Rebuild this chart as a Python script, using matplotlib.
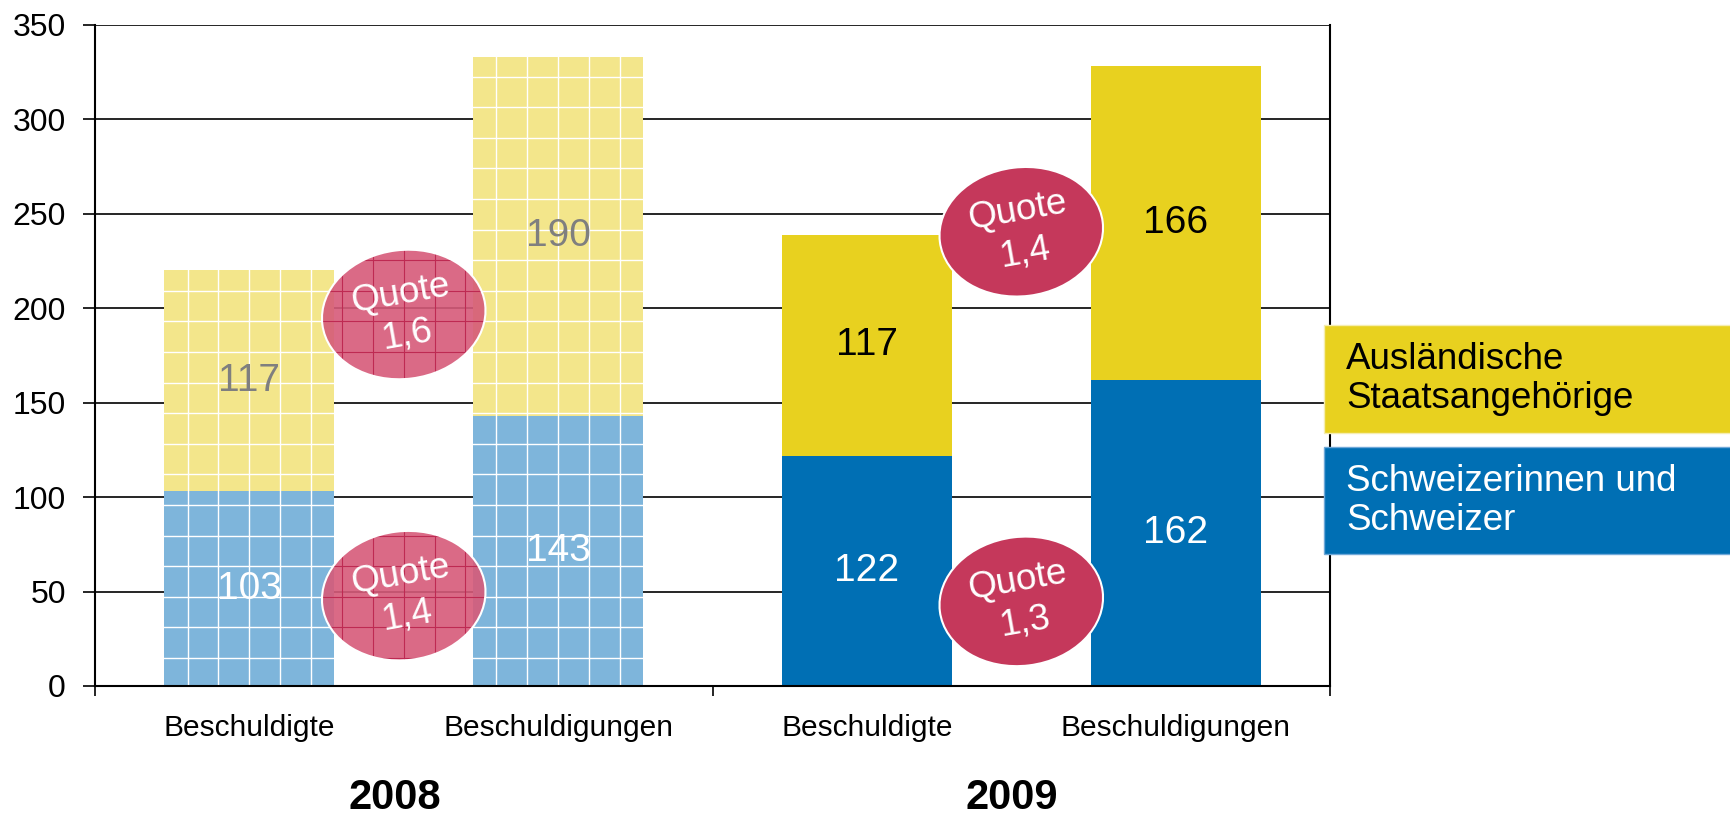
import numpy as np
import matplotlib
matplotlib.use('Agg')
import matplotlib.pyplot as plt
from matplotlib.patches import Ellipse, Rectangle
from matplotlib.transforms import ScaledTranslation

# data
categories = ['Beschuldigte', 'Beschuldigungen', 'Beschuldigte', 'Beschuldigungen']
years = ['2008', '2009']
schweizer = [103, 143, 122, 162]
auslaender = [117, 190, 117, 166]
# Quote = Beschuldigungen / Beschuldigte
quote_ausl = ['1,6', '1,4']
quote_ch = ['1,4', '1,3']

label_ausl = 'Ausländische\nStaatsangehörige'
label_ch = 'Schweizerinnen und\nSchweizer'

# colours
yel_light, blue_light = '#F3E68B', '#7EB5DB'
yel, blue = '#E8D11F', '#006FB4'
red, red_light, red_grid = '#C5385B', '#D65A79', '#BE2A52'

plt.rcParams['font.family'] = ['Liberation Sans', 'DejaVu Sans']

fig = plt.figure(figsize=(17.3, 8.18), dpi=100)
ax = fig.add_axes([0.0549, 0.1614, 0.7139, 0.8081])


def grid_fill(patch, dx, dy, color, lw=1.0):
    # fine grid pattern clipped to a patch (like the 2008 fill)
    x0, x1, y0, y1 = -1, 4, -50, 400
    xs = np.arange(x0, x1, dx)
    ys = np.arange(y0, y1, dy)
    v = ax.vlines(xs, y0, y1, colors=color, lw=lw, zorder=patch.get_zorder() + 0.1)
    h = ax.hlines(ys, x0, x1, colors=color, lw=lw, zorder=patch.get_zorder() + 0.1)
    v.set_clip_path(patch)
    h.set_clip_path(patch)


x = np.arange(len(categories))
width = 0.55
for i in x:
    light = i < 2
    c1 = blue_light if light else blue
    c2 = yel_light if light else yel
    b1 = ax.bar(i, schweizer[i], width, color=c1, zorder=2)[0]
    b2 = ax.bar(i, auslaender[i], width, bottom=schweizer[i], color=c2, zorder=2)[0]
    if light:
        grid_fill(b1, 0.1, 16.2, 'white')
        grid_fill(b2, 0.1, 16.2, 'white')
    ax.text(i, schweizer[i] / 2, str(schweizer[i]), ha='center', va='center',
            fontsize=28, color='white', zorder=5)
    ax.text(i, schweizer[i] + auslaender[i] / 2, str(auslaender[i]), ha='center',
            va='center', fontsize=28, color='#7F7F7F' if light else 'black', zorder=5)

# Quote ellipses between the bars of each year (size in inches, centre in data)
ell_x = [0.5, 2.5]
ell_y_top = [196.7, 240.5]
ell_y_bot = [47.8, 44.8]
ell_w, ell_h = 1.64, 1.29
for k in range(2):
    for yc, q in [(ell_y_top[k], quote_ausl[k]), (ell_y_bot[k], quote_ch[k])]:
        trans = fig.dpi_scale_trans + ScaledTranslation(ell_x[k], yc, ax.transData)
        if k == 0:
            e = Ellipse((0, 0), ell_w, ell_h, angle=7, facecolor=red_light,
                        edgecolor='none', alpha=0.9, zorder=3, transform=trans)
            ax.add_patch(e)
            grid_fill(e, 0.1, 16.2, red_grid, lw=0.8)
        e2 = Ellipse((0, 0), ell_w, ell_h, angle=7,
                     facecolor='none' if k == 0 else red,
                     edgecolor='white', lw=1.5, zorder=4, transform=trans)
        ax.add_patch(e2)
        ax.text(ell_x[k], yc, 'Quote\n' + q, ha='center', va='center', rotation=10,
                fontsize=26.5, color='white', linespacing=1.25, zorder=6,
                rotation_mode='anchor')

ax.set_xlim(-0.5, 3.5)
ax.set_ylim(0, 350)
ax.set_yticks(range(0, 351, 50))
ax.tick_params(axis='y', labelsize=23, length=9, width=1.2, direction='out', pad=12)
ax.set_xticks([-0.5, 1.5, 3.5])
ax.set_xticklabels([])
ax.tick_params(axis='x', length=7, width=1.2, direction='out')
ax.yaxis.grid(True, color='black', lw=1.2, zorder=1)
ax.set_axisbelow(True)
ax.spines['top'].set_visible(False)
for s in ['left', 'right', 'bottom']:
    ax.spines[s].set_linewidth(1.5)

for i, c in enumerate(categories):
    ax.text(i, -0.064, c, transform=ax.get_xaxis_transform(), ha='center', va='center',
            fontsize=21.5)
for k, yr in enumerate(years):
    ax.text(ell_x[k] - 0.03, -0.170, yr, transform=ax.get_xaxis_transform(), ha='center',
            va='center', fontsize=30, fontweight='bold')

# legend boxes at right
fig.patches.append(Rectangle((0.7653, 0.4707), 0.25, 0.132, transform=fig.transFigure,
                             facecolor=yel, edgecolor='#F5EDB0', lw=1, zorder=10))
fig.patches.append(Rectangle((0.7653, 0.3227), 0.25, 0.1308, transform=fig.transFigure,
                             facecolor=blue, edgecolor='#6FA8D8', lw=1, zorder=10))
fig.text(0.778, 0.4707 + 0.066, label_ausl, ha='left', va='center', fontsize=26.5,
         color='black', linespacing=1.15, zorder=11)
fig.text(0.778, 0.3227 + 0.0654, label_ch, ha='left', va='center', fontsize=26.5,
         color='white', linespacing=1.15, zorder=11)

fig.savefig('out.png', dpi=100)
